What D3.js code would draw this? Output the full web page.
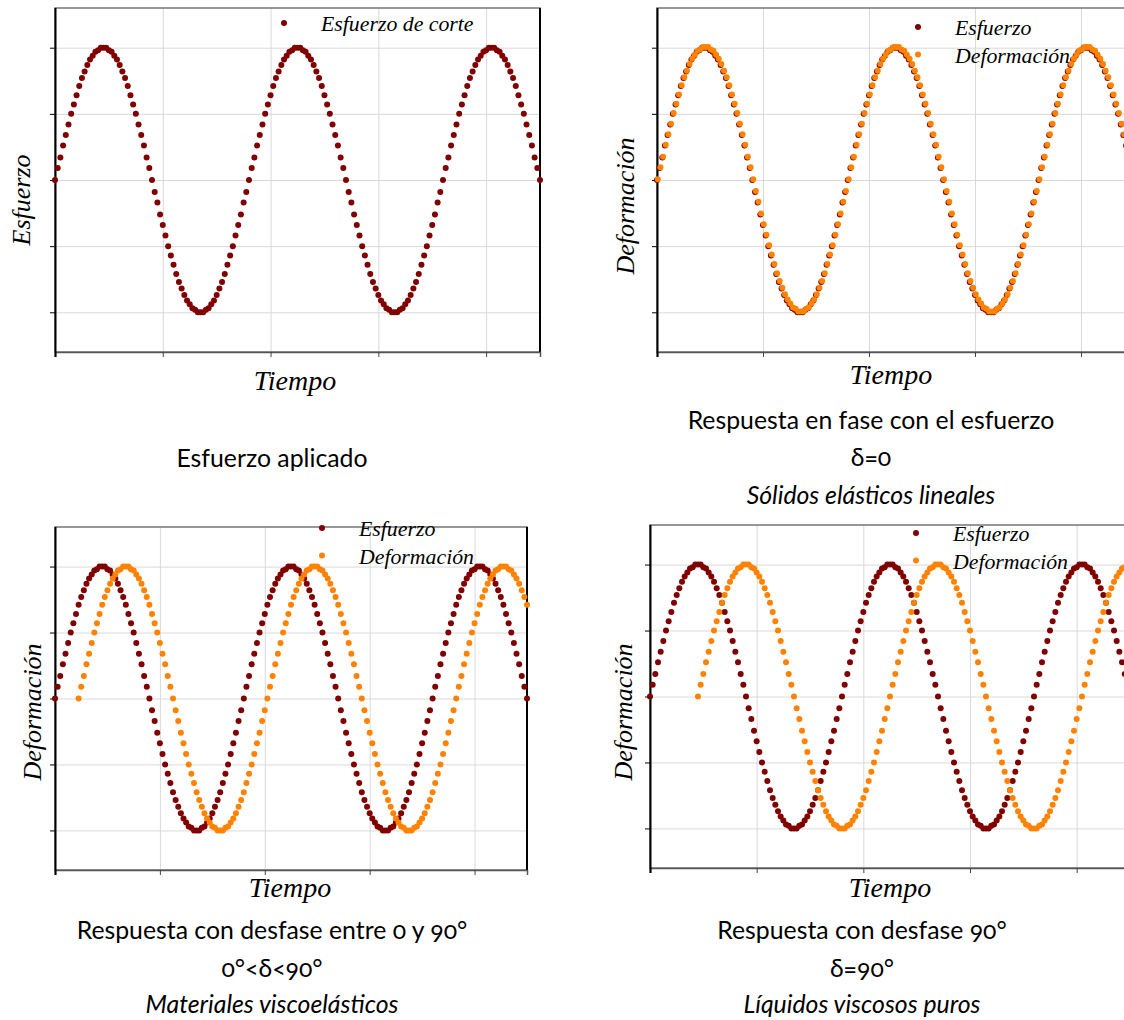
<!DOCTYPE html>
<html>
<head>
<meta charset="utf-8">
<script src="https://cdn.jsdelivr.net/npm/d3@7"></script>
<style>
    body { margin: 0; background: #fff; }
    .serif { font-family: "Liberation Serif", "DejaVu Serif", serif; font-style: italic; fill: #000; }
    .sans { font-family: Lato, "Open Sans", sans-serif; fill: #000; font-variant-numeric: oldstyle-nums; }
</style>
</head>
<body>
<svg id="chart" width="1124" height="1020"></svg>
<script>
"use strict";

// tiempo (grados), 5 en 5, hasta 900
const tiempo = [
    0, 5, 10, 15, 20, 25, 30, 35, 40, 45, 50, 55, 60, 65, 70, 75, 80, 85,
    90, 95, 100, 105, 110, 115, 120, 125, 130, 135, 140, 145, 150, 155, 160, 165, 170, 175,
    180, 185, 190, 195, 200, 205, 210, 215, 220, 225, 230, 235, 240, 245, 250, 255, 260, 265,
    270, 275, 280, 285, 290, 295, 300, 305, 310, 315, 320, 325, 330, 335, 340, 345, 350, 355,
    360, 365, 370, 375, 380, 385, 390, 395, 400, 405, 410, 415, 420, 425, 430, 435, 440, 445,
    450, 455, 460, 465, 470, 475, 480, 485, 490, 495, 500, 505, 510, 515, 520, 525, 530, 535,
    540, 545, 550, 555, 560, 565, 570, 575, 580, 585, 590, 595, 600, 605, 610, 615, 620, 625,
    630, 635, 640, 645, 650, 655, 660, 665, 670, 675, 680, 685, 690, 695, 700, 705, 710, 715,
    720, 725, 730, 735, 740, 745, 750, 755, 760, 765, 770, 775, 780, 785, 790, 795, 800, 805,
    810, 815, 820, 825, 830, 835, 840, 845, 850, 855, 860, 865, 870, 875, 880, 885, 890, 895,
    900
];

const esfuerzo = [
    0, .09, .17, .26, .34, .42, .5, .57, .64, .71, .77, .82, .87, .91, .94, .97, .98, 1,
    1, 1, .98, .97, .94, .91, .87, .82, .77, .71, .64, .57, .5, .42, .34, .26, .17, .09,
    0, -.09, -.17, -.26, -.34, -.42, -.5, -.57, -.64, -.71, -.77, -.82, -.87, -.91, -.94, -.97, -.98, -1,
    -1, -1, -.98, -.97, -.94, -.91, -.87, -.82, -.77, -.71, -.64, -.57, -.5, -.42, -.34, -.26, -.17, -.09,
    0, .09, .17, .26, .34, .42, .5, .57, .64, .71, .77, .82, .87, .91, .94, .97, .98, 1,
    1, 1, .98, .97, .94, .91, .87, .82, .77, .71, .64, .57, .5, .42, .34, .26, .17, .09,
    0, -.09, -.17, -.26, -.34, -.42, -.5, -.57, -.64, -.71, -.77, -.82, -.87, -.91, -.94, -.97, -.98, -1,
    -1, -1, -.98, -.97, -.94, -.91, -.87, -.82, -.77, -.71, -.64, -.57, -.5, -.42, -.34, -.26, -.17, -.09,
    0, .09, .17, .26, .34, .42, .5, .57, .64, .71, .77, .82, .87, .91, .94, .97, .98, 1,
    1, 1, .98, .97, .94, .91, .87, .82, .77, .71, .64, .57, .5, .42, .34, .26, .17, .09,
    0
];

// desfase de la deformación respecto al esfuerzo en cada gráfico (null = sin deformación)
const desfases = [null, 0, 45, 90];

const x_ticks = [0, 200, 400, 600, 800];
const y_ticks = [-1, -0.5, 0, 0.5, 1];
const x_domain = [0, 900], y_domain = [-1.3, 1.3];

const series_names = ['Esfuerzo', 'Deformación'];
const single_name = 'Esfuerzo de corte';
const y_titles = ['Esfuerzo', 'Deformación', 'Deformación', 'Deformación'];
const x_title = 'Tiempo';
const captions = [
    [['Esfuerzo aplicado', false]],
    [['Respuesta en fase con el esfuerzo', false], ['δ=0', false], ['Sólidos elásticos lineales', true]],
    [['Respuesta con desfase entre 0 y 90°', false], ['0°<δ<90°', false], ['Materiales viscoelásticos', true]],
    [['Respuesta con desfase 90°', false], ['δ=90°', false], ['Líquidos viscosos puros', true]]
];

const colors = {esfuerzo: '#800000', deformacion: '#ff8200'};
const dot_r = 3;

// layout of each panel on the page
const layout = [
    {left: 55, right: 540, top: 8, bottom: 352, ytitle: [30, 200], legend: [284, 23], xtitle: [295, 390], caption: [272, [467]]},
    {left: 657, right: 1134, top: 8, bottom: 352, ytitle: [634, 206], legend: [918, 27], xtitle: [891, 384], caption: [871, [429, 466, 504]]},
    {left: 55, right: 527, top: 527, bottom: 870, ytitle: [41, 712], legend: [322, 528], xtitle: [290, 897], caption: [272, [939, 977, 1013]]},
    {left: 650, right: 1130, top: 525, bottom: 868, ytitle: [632, 712], legend: [916, 533], xtitle: [890, 897], caption: [862, [939, 977, 1013]]}
];

const svg = d3.select('#chart');

function draw_panel(i) {
    const p = layout[i];
    const width = p.right - p.left, height = p.bottom - p.top;
    const x = d3.scaleLinear().domain(x_domain).range([p.left, p.right]);
    const y = d3.scaleLinear().domain(y_domain).range([p.bottom, p.top]);
    const g = svg.append('g');

    // grid
    g.append('g')
        .attr('transform', `translate(${p.left},0)`)
        .call(d3.axisLeft(y).tickValues(y_ticks).tickSizeInner(-width).tickSizeOuter(0).tickFormat(''))
        .call(a => a.select('.domain').remove())
        .selectAll('line').attr('stroke', '#d9d9d9');
    g.append('g')
        .attr('transform', `translate(0,${p.bottom})`)
        .call(d3.axisBottom(x).tickValues(x_ticks.slice(1)).tickSizeInner(-height).tickSizeOuter(0).tickFormat(''))
        .call(a => a.select('.domain').remove())
        .selectAll('line').attr('stroke', '#d9d9d9');

    // frame
    g.append('rect')
        .attr('x', p.left).attr('y', p.top).attr('width', width).attr('height', height)
        .attr('fill', 'none').attr('stroke', '#767676').attr('stroke-width', 1.5);
    g.append('line')
        .attr('x1', p.right).attr('x2', p.right).attr('y1', p.top).attr('y2', p.bottom)
        .attr('stroke', '#000').attr('stroke-width', 2);

    // axes (outer ticks only)
    g.append('g')
        .attr('transform', `translate(0,${p.bottom})`)
        .call(d3.axisBottom(x).tickValues(x_ticks).tickSize(5).tickFormat(''))
        .call(a => a.select('.domain').attr('stroke', '#555').attr('stroke-width', 1.5))
        .selectAll('line').attr('stroke', '#444');
    g.append('g')
        .attr('transform', `translate(${p.left},0)`)
        .call(d3.axisLeft(y).tickValues(y_ticks).tickSize(5).tickFormat(''))
        .call(a => a.select('.domain').attr('stroke', '#000').attr('stroke-width', 2).attr('d', `M0.5,${p.top}V${p.bottom + 5}`))
        .selectAll('line').attr('stroke', '#000');

    // series
    const stress = tiempo.map((t, k) => ({t: t, v: esfuerzo[k]}));
    g.append('g').selectAll('circle')
        .data(stress).join('circle')
        .attr('cx', d => x(d.t)).attr('cy', d => y(d.v)).attr('r', dot_r)
        .attr('fill', colors.esfuerzo);

    const shift = desfases[i];
    if (shift !== null) {
        const strain = tiempo.map((t, k) => ({t: t + shift, v: esfuerzo[k]}))
            .filter(d => d.t <= x_domain[1]);
        // in phase: the stress dots peek out a little under the strain dots
        const nudge = shift === 0 ? 0.8 : 0;
        g.append('g').selectAll('circle')
            .data(strain).join('circle')
            .attr('cx', d => x(d.t) + nudge).attr('cy', d => y(d.v) - nudge).attr('r', dot_r)
            .attr('fill', colors.deformacion);
    }

    // legend
    const entries = shift === null
        ? [{name: single_name, color: colors.esfuerzo}]
        : [{name: series_names[0], color: colors.esfuerzo}, {name: series_names[1], color: colors.deformacion}];
    const legend = g.append('g').selectAll('g')
        .data(entries).join('g')
        .attr('transform', (d, k) => `translate(${p.legend[0]},${p.legend[1] + k * 27.5})`);
    legend.append('circle').attr('r', dot_r).attr('fill', d => d.color);
    legend.append('text')
        .attr('class', 'serif')
        .attr('x', 37).attr('y', 8)
        .style('font-size', '21.8px')
        .text(d => d.name);

    // titles
    g.append('text')
        .attr('class', 'serif')
        .attr('x', p.xtitle[0]).attr('y', p.xtitle[1])
        .attr('text-anchor', 'middle')
        .style('font-size', '28px')
        .text(x_title);
    g.append('text')
        .attr('class', 'serif')
        .attr('transform', `translate(${p.ytitle[0]},${p.ytitle[1]}) rotate(-90)`)
        .attr('text-anchor', 'middle')
        .style('font-size', '26px')
        .text(y_titles[i]);

    g.append('g').selectAll('text')
        .data(captions[i]).join('text')
        .attr('class', 'sans')
        .attr('x', p.caption[0])
        .attr('y', (d, k) => p.caption[1][k])
        .attr('text-anchor', 'middle')
        .style('font-size', '24.8px')
        .style('font-style', d => d[1] ? 'italic' : 'normal')
        .text(d => d[0]);
}

layout.forEach((p, i) => draw_panel(i));
</script>
</body>
</html>
